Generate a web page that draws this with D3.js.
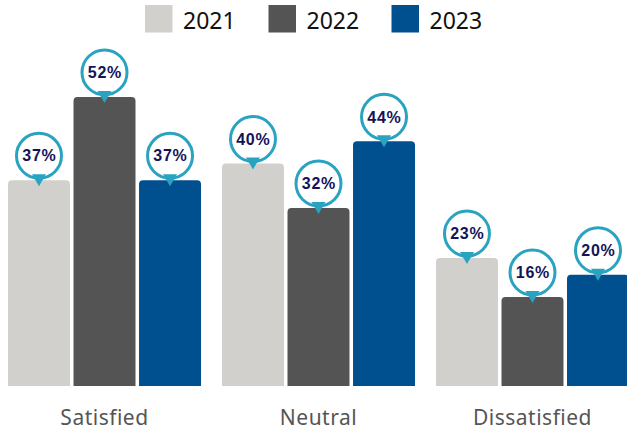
<!DOCTYPE html>
<html>
<head>
<meta charset="utf-8">
<script src="https://cdn.jsdelivr.net/npm/d3@7/dist/d3.min.js"></script>
<style>
  html, body { margin: 0; padding: 0; background: #fff; }
  svg { display: block; }
</style>
</head>
<body>
<svg id="chart" width="627" height="430"></svg>
<script>
// Survey satisfaction by year
const categories = ["Satisfied", "Neutral", "Dissatisfied"];
const years = ["2021", "2022", "2023"];
const values2021 = [37, 40, 23];
const values2022 = [52, 32, 16];
const values2023 = [37, 44, 20];
const seriesValues = [values2021, values2022, values2023];

const colors = ["#d1d0cc", "#545454", "#004f8f"];
const calloutStroke = "#2aa3c1";
const labelColor = "#14135a";

const svg = d3.select("#chart");
const baseY = 386;

const x0 = d3.scaleBand().domain(categories).range([8, 629]).paddingInner(0.098).paddingOuter(0);
const x1 = d3.scaleBand().domain(years).range([0, x0.bandwidth()]).paddingInner(0.054).paddingOuter(0);
const y = d3.scaleLinear().domain([0, 60]).range([baseY, baseY - 333.6]);

// rows of {cat, year, value}
const rows = [];
categories.forEach((c, ci) => {
  years.forEach((yr, yi) => rows.push({ cat: c, year: yr, yi, value: seriesValues[yi][ci] }));
});

// bar with rounded top corners
function barPath(x, top, w, bottom, r) {
  return `M${x},${bottom}V${top + r}Q${x},${top} ${x + r},${top}H${x + w - r}Q${x + w},${top} ${x + w},${top + r}V${bottom}Z`;
}

const g = svg.append("g");
g.selectAll("path.bar").data(rows).join("path")
  .attr("class", "bar")
  .attr("fill", d => colors[d.yi])
  .attr("d", d => barPath(x0(d.cat) + x1(d.year), y(d.value), x1.bandwidth(), y(0), 4));

// value callouts
const callouts = g.selectAll("g.callout").data(rows).join("g")
  .attr("class", "callout")
  .attr("transform", d => `translate(${x0(d.cat) + x1(d.year) + x1.bandwidth() / 2},${y(d.value)})`);

callouts.append("circle")
  .attr("cx", 0).attr("cy", -24.5).attr("r", 22.5)
  .attr("fill", "#fff").attr("stroke", calloutStroke).attr("stroke-width", 3);

callouts.append("path")
  .attr("d", "M-7,-6L7,-6L0,6Z")
  .attr("fill", calloutStroke);

callouts.append("text")
  .attr("x", 0.4).attr("y", -18.8)
  .attr("text-anchor", "middle")
  .attr("font-family", "'Liberation Sans', Arial, sans-serif")
  .attr("font-weight", "bold")
  .attr("font-size", 16)
  .attr("letter-spacing", 0.8)
  .attr("fill", labelColor)
  .text(d => d.value + "%");

// category axis labels
svg.append("g").selectAll("text").data(categories).join("text")
  .attr("x", d => x0(d) + x0.bandwidth() / 2)
  .attr("y", 425)
  .attr("text-anchor", "middle")
  .attr("font-family", "'Noto Sans', sans-serif")
  .attr("font-size", 21)
  .attr("letter-spacing", 0.5)
  .attr("fill", "#555")
  .text(d => d);

// legend
const legendX = [145, 268.5, 391.5];
const legend = svg.append("g").selectAll("g").data(years).join("g")
  .attr("transform", (d, i) => `translate(${legendX[i]},5)`);
legend.append("rect")
  .attr("width", 27.5).attr("height", 27.5)
  .attr("fill", (d, i) => colors[i]);
legend.append("text")
  .attr("x", 38).attr("y", 23.5)
  .attr("font-family", "'Noto Sans', sans-serif")
  .attr("font-size", 23)
  .attr("fill", "#111")
  .text(d => d);
</script>
</body>
</html>
